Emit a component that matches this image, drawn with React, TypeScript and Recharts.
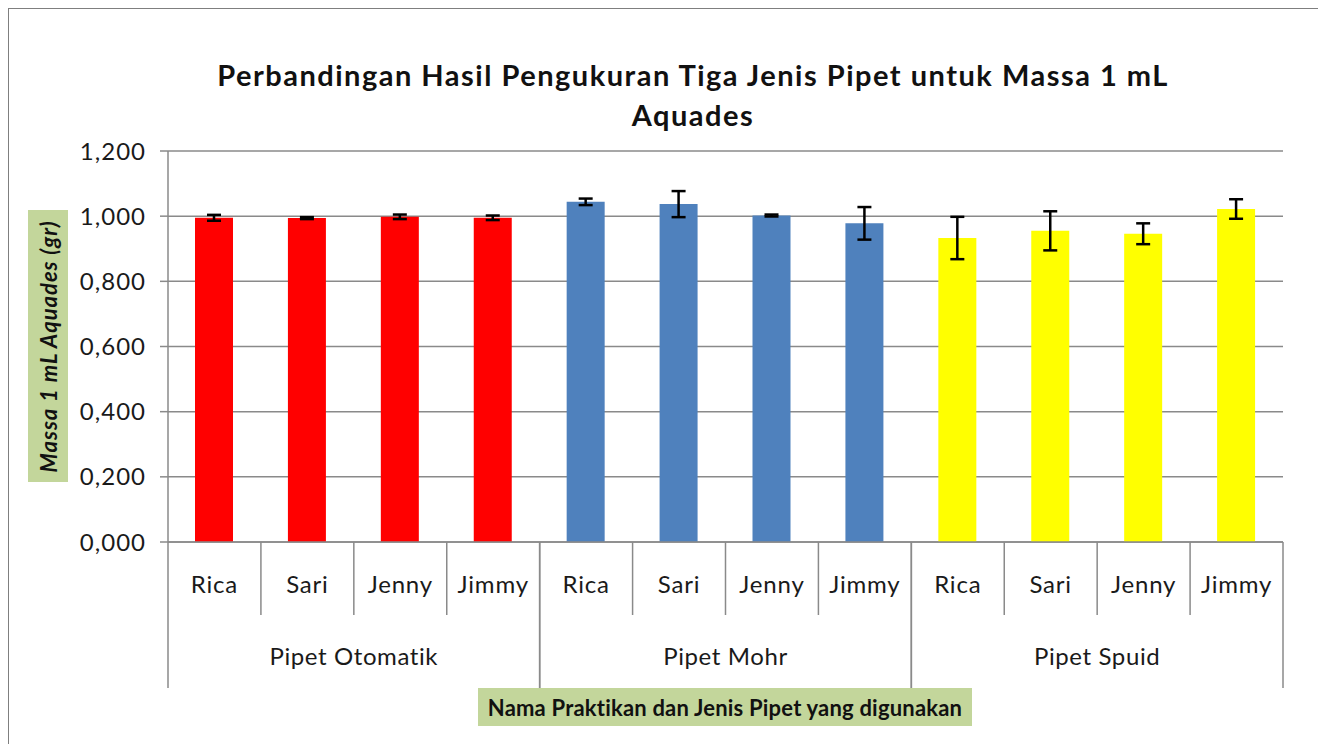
import React from 'react'
import { BarChart, Bar, XAxis, YAxis, CartesianGrid, ErrorBar, Cell } from 'recharts'

const praktikan = ['Rica', 'Sari', 'Jenny', 'Jimmy']
const jenisPipet = ['Pipet Otomatik', 'Pipet Mohr', 'Pipet Spuid']
const warnaPipet = ['#ff0000', '#4f81bd', '#ffff00']

const massaOtomatik = [0.995, 0.994, 0.998, 0.995]
const errOtomatik = [0.009, 0.003, 0.007, 0.007]
const massaMohr = [1.044, 1.037, 1.002, 0.978]
const errMohr = [0.01, 0.04, 0.003, 0.05]
const massaSpuid = [0.933, 0.955, 0.946, 1.022]
const errSpuid = [0.065, 0.06, 0.032, 0.03]

const yTicks = [0, 0.2, 0.4, 0.6, 0.8, 1.0, 1.2]

const massa = [massaOtomatik, massaMohr, massaSpuid]
const galat = [errOtomatik, errMohr, errSpuid]

const data = jenisPipet.flatMap((pipet, g) =>
  praktikan.map((nama, i) => ({
    key: `${pipet}-${nama}`,
    nama,
    pipet,
    g,
    massa: massa[g][i],
    err: galat[g][i],
  }))
)

const FONT = 'Lato, "Open Sans", sans-serif'
const GRID = '#8a8a8a'
const CHART_W = 1309
const CHART_H = 735
const MARGIN = { top: 142, right: 35, bottom: 52, left: 79 }
const Y_W = 80
const PLOT_W = CHART_W - MARGIN.left - MARGIN.right - Y_W
const BAND = PLOT_W / data.length

// kategori dua tingkat ala Excel: nama praktikan + jenis pipet, dengan garis pemisah
const XTick = (props: any) => {
  const { x, y, payload } = props
  const i = payload.index
  const row = data[i]
  if (!row) return null
  const left = x - BAND / 2
  const right = x + BAND / 2
  const pos = i % praktikan.length
  return (
    <g>
      <line x1={left} x2={left} y1={y} y2={y + (pos === 0 ? 146 : 73)} stroke={GRID} strokeWidth={1.5} />
      {pos === praktikan.length - 1 && (
        <line x1={right} x2={right} y1={y} y2={y + 146} stroke={GRID} strokeWidth={1.5} />
      )}
      <text x={x} y={y + 51} textAnchor="middle" fontSize={24} letterSpacing={0.8} fill="#1a1a1a" fontFamily={FONT}>
        {row.nama}
      </text>
      {pos === 1 && (
        <text x={right} y={y + 123} textAnchor="middle" fontSize={24} letterSpacing={0.6} fill="#1a1a1a" fontFamily={FONT}>
          {row.pipet}
        </text>
      )}
    </g>
  )
}

export default function App() {
  return (
    <div
      style={{
        position: 'relative',
        width: 1311,
        height: 736,
        boxSizing: 'border-box',
        borderTop: '1px solid #7f7f7f',
        borderLeft: '1px solid #7f7f7f',
        borderRight: '1px solid #7f7f7f',
        background: '#fff',
        fontFamily: FONT,
      }}
    >
      <div
        style={{
          position: 'absolute',
          left: 184,
          top: 46,
          width: 1000,
          textAlign: 'center',
          fontSize: 29,
          letterSpacing: 1.5,
          fontWeight: 700,
          lineHeight: '40px',
          color: '#111',
          whiteSpace: 'nowrap',
        }}
      >
        Perbandingan Hasil Pengukuran Tiga Jenis Pipet untuk Massa 1 mL
        <br />
        Aquades
      </div>

      <div style={{ position: 'absolute', left: 0, top: 0 }}>
        <BarChart width={CHART_W} height={CHART_H} data={data} margin={MARGIN} barSize={38}>
          <CartesianGrid vertical={false} stroke={GRID} strokeWidth={1.5} />
          <XAxis
            dataKey="key"
            interval={0}
            height={150}
            tickLine={false}
            tickSize={0}
            tickMargin={0}
            axisLine={{ stroke: GRID, strokeWidth: 1.5 }}
            tick={<XTick />}
          />
          <YAxis
            width={Y_W}
            domain={[0, 1.2]}
            ticks={yTicks}
            interval={0}
            tickFormatter={(v: number) => v.toFixed(3).replace('.', ',')}
            axisLine={{ stroke: GRID, strokeWidth: 1.5 }}
            tickLine={{ stroke: GRID, strokeWidth: 1.5 }}
            tickSize={8}
            tickMargin={14}
            tick={{ fontSize: 24, letterSpacing: 1, fill: '#1a1a1a', fontFamily: FONT }}
          />
          <Bar dataKey="massa" isAnimationActive={false}>
            {data.map((d) => (
              <Cell key={d.key} fill={warnaPipet[d.g]} />
            ))}
            <ErrorBar dataKey="err" width={7} stroke="#000" strokeWidth={2.5} />
          </Bar>
        </BarChart>
      </div>

      <div
        style={{
          position: 'absolute',
          left: 19,
          top: 201,
          width: 40,
          height: 272,
          background: '#c3d69b',
          display: 'flex',
          alignItems: 'center',
          justifyContent: 'center',
        }}
      >
        <div
          style={{
            transform: 'rotate(-90deg)',
            whiteSpace: 'nowrap',
            fontSize: 22,
            letterSpacing: 1,
            fontWeight: 700,
            fontStyle: 'italic',
            color: '#111',
          }}
        >
          Massa 1 mL Aquades (gr)
        </div>
      </div>

      <div
        style={{
          position: 'absolute',
          left: 469,
          top: 679,
          width: 494,
          height: 38,
          background: '#c3d69b',
          display: 'flex',
          alignItems: 'center',
          justifyContent: 'center',
          fontSize: 22,
          letterSpacing: 0.2,
          fontWeight: 700,
          color: '#111',
          whiteSpace: 'nowrap',
        }}
      >
        Nama Praktikan dan Jenis Pipet yang digunakan
      </div>
    </div>
  )
}
